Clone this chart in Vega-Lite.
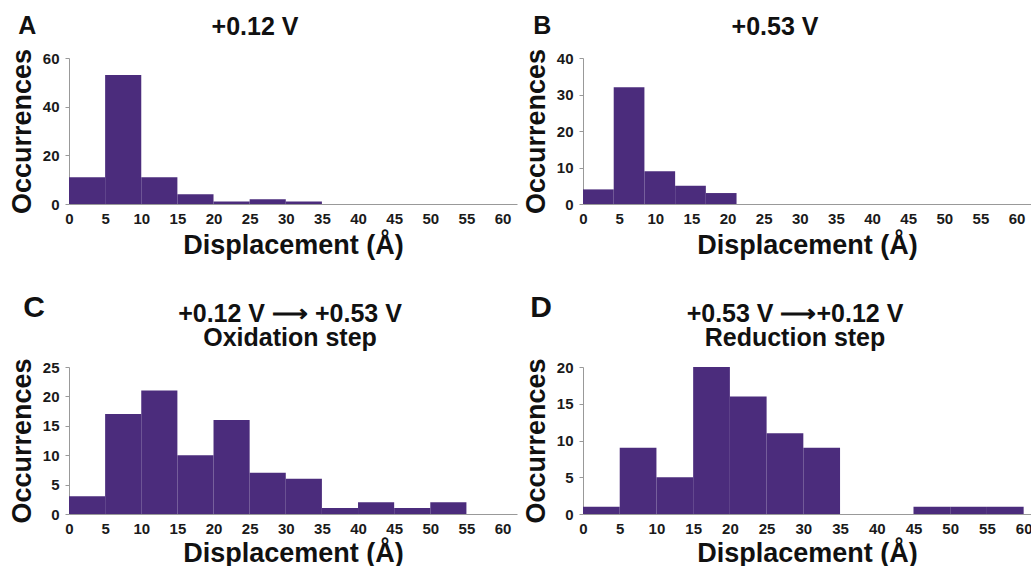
{
  "$schema": "https://vega.github.io/schema/vega-lite/v6.json",
  "background": "white",
  "padding": {"left": 8, "top": 14, "right": 0, "bottom": 0},
  "data": {"values": [
    {"panel": "A", "bin_start": 0, "bin_end": 5, "count": 11},
    {"panel": "A", "bin_start": 5, "bin_end": 10, "count": 53},
    {"panel": "A", "bin_start": 10, "bin_end": 15, "count": 11},
    {"panel": "A", "bin_start": 15, "bin_end": 20, "count": 4},
    {"panel": "A", "bin_start": 20, "bin_end": 25, "count": 1},
    {"panel": "A", "bin_start": 25, "bin_end": 30, "count": 2},
    {"panel": "A", "bin_start": 30, "bin_end": 35, "count": 1},
    {"panel": "B", "bin_start": 0, "bin_end": 4.25, "count": 4},
    {"panel": "B", "bin_start": 4.25, "bin_end": 8.5, "count": 32},
    {"panel": "B", "bin_start": 8.5, "bin_end": 12.75, "count": 9},
    {"panel": "B", "bin_start": 12.75, "bin_end": 17, "count": 5},
    {"panel": "B", "bin_start": 17, "bin_end": 21.25, "count": 3},
    {"panel": "C", "bin_start": 0, "bin_end": 5, "count": 3},
    {"panel": "C", "bin_start": 5, "bin_end": 10, "count": 17},
    {"panel": "C", "bin_start": 10, "bin_end": 15, "count": 21},
    {"panel": "C", "bin_start": 15, "bin_end": 20, "count": 10},
    {"panel": "C", "bin_start": 20, "bin_end": 25, "count": 16},
    {"panel": "C", "bin_start": 25, "bin_end": 30, "count": 7},
    {"panel": "C", "bin_start": 30, "bin_end": 35, "count": 6},
    {"panel": "C", "bin_start": 35, "bin_end": 40, "count": 1},
    {"panel": "C", "bin_start": 40, "bin_end": 45, "count": 2},
    {"panel": "C", "bin_start": 45, "bin_end": 50, "count": 1},
    {"panel": "C", "bin_start": 50, "bin_end": 55, "count": 2},
    {"panel": "D", "bin_start": 0, "bin_end": 5, "count": 1},
    {"panel": "D", "bin_start": 5, "bin_end": 10, "count": 9},
    {"panel": "D", "bin_start": 10, "bin_end": 15, "count": 5},
    {"panel": "D", "bin_start": 15, "bin_end": 20, "count": 20},
    {"panel": "D", "bin_start": 20, "bin_end": 25, "count": 16},
    {"panel": "D", "bin_start": 25, "bin_end": 30, "count": 11},
    {"panel": "D", "bin_start": 30, "bin_end": 35, "count": 9},
    {"panel": "D", "bin_start": 45, "bin_end": 50, "count": 1},
    {"panel": "D", "bin_start": 50, "bin_end": 55, "count": 1},
    {"panel": "D", "bin_start": 55, "bin_end": 60, "count": 1}
  ]},
  "config": {
    "view": {"stroke": null},
    "font": "Liberation Sans",
    "title": {"font": "Liberation Sans", "fontWeight": "bold", "fontSize": 25, "color": "#111111"},
    "axis": {
      "labelFont": "Liberation Sans", "labelFontWeight": "bold", "labelFontSize": 15, "labelColor": "#1a1a1a",
      "titleFont": "Liberation Sans", "titleFontWeight": "bold", "titleFontSize": 27, "titleColor": "#111111",
      "domainColor": "#999999", "tickColor": "#999999", "grid": false
    },
    "axisX": {"ticks": false, "labelPadding": 7, "titlePadding": 6, "labelFlush": false, "labelOverlap": false},
    "axisY": {"tickSize": 4, "labelPadding": 6, "titlePadding": 6, "labelFlush": false},
    "concat": {"spacing": 5}
  },
  "spacing": 34,
  "vconcat": [
    {"hconcat": [
      {"title": {"text": "A", "anchor": "start", "frame": "bounds", "fontSize": 25, "offset": -24, "dx": 10},
       "vconcat": [{
        "title": {"text": "+0.12 V", "dx": -38, "offset": 8},
        "width": 448, "height": 146,
        "transform": [{"filter": "datum.panel === 'A'"}],
        "mark": {"type": "bar", "color": "#4b2c7c"},
        "encoding": {
          "x": {"field": "bin_start", "type": "quantitative", "scale": {"domain": [0, 62], "nice": false}, "axis": {"values": [0,5,10,15,20,25,30,35,40,45,50,55,60], "title": "Displacement (Å)"}},
          "x2": {"field": "bin_end"},
          "y": {"field": "count", "type": "quantitative", "scale": {"domain": [0, 60], "nice": false}, "axis": {"values": [0,20,40,60], "title": "Occurrences"}},
          "y2": {"datum": 0}
        }
      }]},
      {"title": {"text": "B", "anchor": "start", "frame": "bounds", "fontSize": 25, "offset": -24, "dx": 11},
       "vconcat": [{
        "title": {"text": "+0.53 V", "dx": -32, "offset": 8},
        "width": 448, "height": 146,
        "transform": [{"filter": "datum.panel === 'B'"}],
        "mark": {"type": "bar", "color": "#4b2c7c"},
        "encoding": {
          "x": {"field": "bin_start", "type": "quantitative", "scale": {"domain": [0, 62], "nice": false}, "axis": {"values": [0,5,10,15,20,25,30,35,40,45,50,55,60], "title": "Displacement (Å)"}},
          "x2": {"field": "bin_end"},
          "y": {"field": "count", "type": "quantitative", "scale": {"domain": [0, 40], "nice": false}, "axis": {"values": [0,10,20,30,40], "title": "Occurrences"}},
          "y2": {"datum": 0}
        }
      }]}
    ]},
    {"hconcat": [
      {"title": {"text": "C", "anchor": "start", "frame": "bounds", "fontSize": 30, "offset": -21, "dx": 15},
       "vconcat": [{
        "title": {"text": ["+0.12 V ⟶ +0.53 V", "Oxidation step"], "dx": -3, "offset": 7, "lineHeight": 24},
        "width": 448, "height": 147,
        "transform": [{"filter": "datum.panel === 'C'"}],
        "mark": {"type": "bar", "color": "#4b2c7c"},
        "encoding": {
          "x": {"field": "bin_start", "type": "quantitative", "scale": {"domain": [0, 62], "nice": false}, "axis": {"values": [0,5,10,15,20,25,30,35,40,45,50,55,60], "title": "Displacement (Å)", "titlePadding": 4}},
          "x2": {"field": "bin_end"},
          "y": {"field": "count", "type": "quantitative", "scale": {"domain": [0, 25], "nice": false}, "axis": {"values": [0,5,10,15,20,25], "title": "Occurrences"}},
          "y2": {"datum": 0}
        }
      }]},
      {"title": {"text": "D", "anchor": "start", "frame": "bounds", "fontSize": 30, "offset": -21, "dx": 8},
       "vconcat": [{
        "title": {"text": ["+0.53 V ⟶+0.12 V", "Reduction step"], "dx": -12, "offset": 7, "lineHeight": 24},
        "width": 448, "height": 147,
        "transform": [{"filter": "datum.panel === 'D'"}],
        "mark": {"type": "bar", "color": "#4b2c7c"},
        "encoding": {
          "x": {"field": "bin_start", "type": "quantitative", "scale": {"domain": [0, 61], "nice": false}, "axis": {"values": [0,5,10,15,20,25,30,35,40,45,50,55,60], "title": "Displacement (Å)", "titlePadding": 4}},
          "x2": {"field": "bin_end"},
          "y": {"field": "count", "type": "quantitative", "scale": {"domain": [0, 20], "nice": false}, "axis": {"values": [0,5,10,15,20], "title": "Occurrences"}},
          "y2": {"datum": 0}
        }
      }]}
    ]}
  ]
}
